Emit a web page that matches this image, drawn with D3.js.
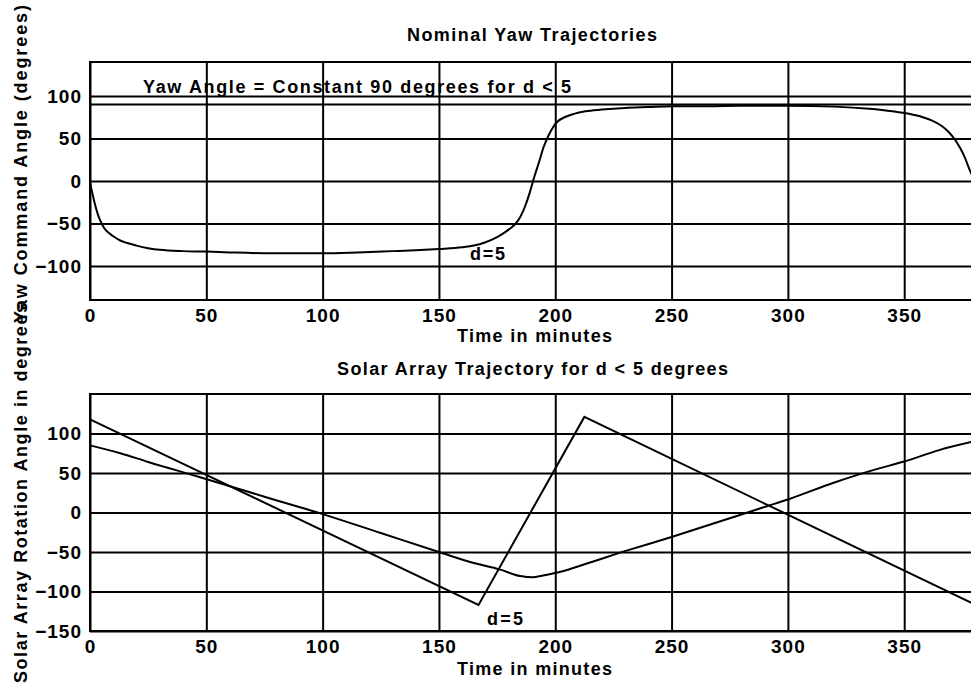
<!DOCTYPE html>
<html>
<head>
<meta charset="utf-8">
<script src="https://cdn.jsdelivr.net/npm/d3@7"></script>
<style>
  body { margin: 0; background: #fff; }
  svg text { font-family: "Liberation Sans", Arial, sans-serif; font-weight: bold; fill: #000; }
  .grid line { stroke: #000; stroke-width: 2; }
  .grid .domain { display: none; }
  .curve { fill: none; stroke: #000; stroke-width: 2; }
</style>
</head>
<body>
<svg id="svg1"></svg>
<script>
// data ----------------------------------------
var xTicks = [0, 50, 100, 150, 200, 250, 300, 350];
var yawTicks = [-100, -50, 0, 50, 100];
var solarTicks = [-150, -100, -50, 0, 50, 100];

// nominal yaw trajectory (d=5)
var yawTime = [0, 1, 2, 3, 4, 5, 6, 8, 10, 13, 16, 20, 25, 30, 40, 50, 60, 75, 90, 100, 115, 130, 140, 150, 160, 165, 170, 175, 178, 181, 183, 185, 187, 189, 191, 193, 195, 197, 199, 201, 204, 208, 213, 220, 230, 240, 250, 265, 280, 300, 320, 335, 345, 352, 358, 362, 366, 369, 372, 374, 376, 378, 380];
var yawAngle = [-2, -14, -26, -36, -44, -50, -55, -61, -65, -70, -73, -76, -79, -81, -82.5, -83, -84, -85, -85, -85, -84, -82.5, -81.5, -80, -78, -76, -72, -66, -61, -55, -50, -42, -30, -14, 5, 22, 40, 53, 63, 70, 75, 79, 82, 84, 86, 87, 88, 88, 88.5, 88.5, 87.5, 85, 82, 79, 75, 71, 65, 58, 48, 39, 28, 14, 2];
var yawConst = 90; // d < 5

// solar array trajectories
var solarTimeA = [0, 167, 212.5, 380];
var solarAngleA = [118, -117, 121, -116];
var solarTimeB = [0, 13, 25, 47, 75, 100, 125, 150, 165, 176, 185, 190.5, 196, 201, 211, 231, 250, 270, 291, 300, 320, 337, 350, 365, 380];
var solarAngleB = [85, 75, 64, 45, 20, -2, -26, -50, -64, -72, -80.5, -82, -79, -76, -67, -48, -31, -12, 8, 16.5, 38, 54, 64.5, 79, 90];

var width = 971;
var height = 685;

var svg = d3.select("#svg1")
  .attr("width", width)
  .attr("height", height);

svg.append("rect").attr("width", width).attr("height", height).attr("fill", "#fff");

// Scales ----------------------------------------
var x = d3.scaleLinear().domain([0, 380]).range([90, 974]);
var yYaw = d3.scaleLinear().domain([-140, 140]).range([300, 62]);
var ySolar = d3.scaleLinear().domain([-150, 150]).range([631, 394]);

function zip(a, b) {
  return a.map(function(d, i) { return [d, b[i]]; });
}

// Panel function ----------------------------------------
function drawPanel(y, yTicks) {
  var top = y.range()[1], bottom = y.range()[0];
  var g = svg.append("g");

  // x grid + labels
  g.append("g")
    .attr("class", "grid")
    .attr("transform", "translate(0," + bottom + ")")
    .call(d3.axisBottom(x).tickValues(xTicks).tickSize(-(bottom - top)).tickPadding(9))
    .attr("font-size", 19)
    .attr("font-family", null)
    .selectAll("text").attr("letter-spacing", 1);

  // y grid + labels
  g.append("g")
    .attr("class", "grid")
    .attr("transform", "translate(" + x(0) + ",0)")
    .call(d3.axisLeft(y).tickValues(yTicks).tickSize(-(x.range()[1] - x(0))).tickPadding(8))
    .attr("font-size", 19)
    .attr("font-family", null)
    .selectAll("text").attr("letter-spacing", 1);

  // box (right side is off the page)
  g.append("path")
    .attr("d", "M" + x.range()[1] + "," + top + "H" + x(0) + "V" + bottom + "H" + x.range()[1])
    .attr("fill", "none")
    .attr("stroke", "#000")
    .attr("stroke-width", 2);
  return g;
}

// Top panel ----------------------------------------
var g1 = drawPanel(yYaw, yawTicks);

var lineYaw = d3.line()
  .x(function(d) { return x(d[0]); })
  .y(function(d) { return yYaw(d[1]); })
  .curve(d3.curveMonotoneX);

g1.append("path")
  .attr("class", "curve")
  .attr("d", lineYaw([[0, yawConst], [380, yawConst]]));

g1.append("path")
  .attr("class", "curve")
  .attr("d", lineYaw(zip(yawTime, yawAngle)));

g1.append("text")
  .attr("x", x(22.8)).attr("y", yYaw(103.5))
  .attr("font-size", 18)
  .attr("textLength", 428).attr("lengthAdjust", "spacing")
  .text("Yaw Angle = Constant 90 degrees for d < 5");

g1.append("text")
  .attr("x", x(163.4)).attr("y", yYaw(-93))
  .attr("font-size", 18)
  .attr("textLength", 35).attr("lengthAdjust", "spacing")
  .text("d=5");

// Bottom panel ----------------------------------------
var g2 = drawPanel(ySolar, solarTicks);

var lineSolar = d3.line()
  .x(function(d) { return x(d[0]); })
  .y(function(d) { return ySolar(d[1]); });

g2.append("path")
  .attr("class", "curve")
  .attr("d", lineSolar(zip(solarTimeA, solarAngleA)));

g2.append("path")
  .attr("class", "curve")
  .attr("d", lineSolar.curve(d3.curveMonotoneX)(zip(solarTimeB, solarAngleB)));

g2.append("text")
  .attr("x", x(170.7)).attr("y", ySolar(-142.4))
  .attr("font-size", 18)
  .attr("textLength", 36).attr("lengthAdjust", "spacing")
  .text("d=5");

// Titles and axis labels ----------------------------------------
function label(txt, px, py, len, anchor, rot) {
  return svg.append("text")
    .attr("transform", "translate(" + px + "," + py + ")" + (rot ? " rotate(-90)" : ""))
    .attr("text-anchor", anchor)
    .attr("font-size", 18)
    .attr("textLength", len).attr("lengthAdjust", "spacing")
    .text(txt);
}

label("Nominal Yaw Trajectories", 407, 41, 250, "start", false);
label("Time in minutes", 457, 342, 155, "start", false);
label("Solar Array Trajectory for d < 5 degrees", 337, 375, 391, "start", false);
label("Time in minutes", 457, 675, 155, "start", false);
label("Yaw Command Angle (degrees)", 27, 323, 318, "start", true);
label("Solar Array Rotation Angle in degrees", 27, 683, 380, "start", true);
</script>
</body>
</html>
